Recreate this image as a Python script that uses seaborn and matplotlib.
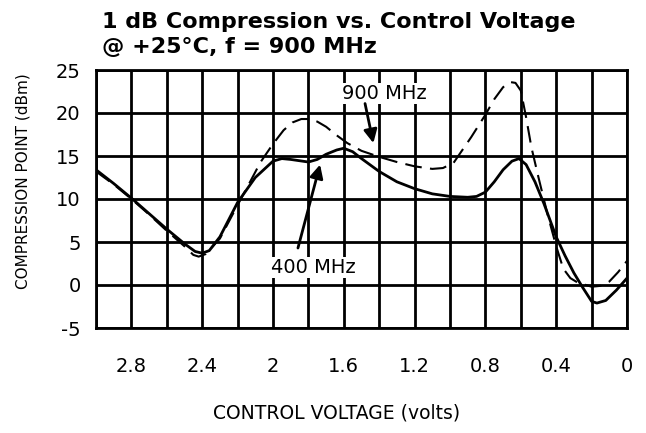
import numpy as np
import pandas as pd
import seaborn as sns
import matplotlib.pyplot as plt

# 400 MHz curve (solid)
volts_400 = [3.00, 2.90, 2.80, 2.70, 2.60, 2.50, 2.44, 2.40, 2.36, 2.30, 2.20, 2.10,
             2.00, 1.95, 1.90, 1.80, 1.75, 1.70, 1.64, 1.60, 1.55, 1.50, 1.40, 1.30,
             1.20, 1.10, 1.00, 0.90, 0.85, 0.80, 0.75, 0.70, 0.65, 0.61, 0.57, 0.52,
             0.47, 0.40, 0.35, 0.30, 0.25, 0.20, 0.17, 0.12, 0.06, 0.00]
comp_400 = [13.4, 11.8, 10.1, 8.3, 6.5, 4.8, 3.9, 3.7, 4.0, 5.6, 9.6, 12.5,
            14.4, 14.7, 14.6, 14.3, 14.6, 15.2, 15.7, 15.9, 15.5, 14.7, 13.2, 12.0,
            11.2, 10.6, 10.3, 10.2, 10.3, 10.8, 12.0, 13.4, 14.4, 14.7, 14.0, 12.0,
            9.5, 5.6, 3.4, 1.4, -0.3, -1.9, -2.1, -1.8, -0.6, 0.8]

# 900 MHz curve (dashed)
volts_900 = [3.00, 2.90, 2.80, 2.70, 2.60, 2.50, 2.45, 2.42, 2.38, 2.30, 2.20, 2.15,
             2.07, 2.00, 1.94, 1.89, 1.84, 1.80, 1.75, 1.70, 1.64, 1.58, 1.50, 1.40,
             1.30, 1.20, 1.10, 1.04, 0.98, 0.94, 0.88, 0.80, 0.75, 0.70, 0.66, 0.63,
             0.60, 0.57, 0.54, 0.50, 0.45, 0.40, 0.36, 0.32, 0.28, 0.20, 0.15, 0.10,
             0.05, 0.00]
comp_900 = [13.2, 11.7, 10.0, 8.2, 6.3, 4.5, 3.5, 3.3, 3.6, 5.4, 9.3, 11.2,
            14.3, 16.4, 18.0, 18.9, 19.3, 19.3, 19.0, 18.4, 17.4, 16.5, 15.6, 14.9,
            14.3, 13.8, 13.5, 13.6, 14.2, 15.4, 17.2, 19.8, 21.6, 23.0, 23.6, 23.5,
            22.6, 19.5, 16.0, 12.5, 8.3, 4.5, 1.9, 0.8, 0.3, -0.2, -0.1, 0.4,
            1.5, 2.8]

x_ticks = [3.0, 2.8, 2.6, 2.4, 2.2, 2.0, 1.8, 1.6, 1.4, 1.2, 1.0, 0.8, 0.6, 0.4, 0.2, 0.0]
x_tick_labels = ['', '2.8', '', '2.4', '', '2', '', '1.6', '', '1.2', '', '0.8', '', '0.4', '', '0']
y_ticks = [-5, 0, 5, 10, 15, 20, 25]

df = pd.concat([
    pd.DataFrame({'volts': volts_400, 'comp': comp_400, 'freq': '400 MHz'}),
    pd.DataFrame({'volts': volts_900, 'comp': comp_900, 'freq': '900 MHz'}),
])

sns.set_style('white')
plt.rcParams['font.family'] = ['DejaVu Sans']
plt.rcParams['axes.unicode_minus'] = False
plt.rcParams['text.color'] = 'black'
plt.rcParams['xtick.color'] = 'black'
plt.rcParams['ytick.color'] = 'black'

fig = plt.figure(figsize=(6.46, 4.33), dpi=100)
ax = fig.add_axes([96 / 646, 1 - 328 / 433, 531 / 646, 258 / 433])

sns.lineplot(data=df, x='volts', y='comp', style='freq', style_order=['400 MHz', '900 MHz'],
             dashes={'400 MHz': '', '900 MHz': (8, 4)}, color='black',
             sort=False, estimator=None, legend=False, ax=ax)
for line, lw in zip(ax.lines, [2.0, 1.5]):
    line.set_linewidth(lw)

ax.set_xlim(3.0, 0.0)
ax.set_ylim(-5, 25)
ax.set_xticks(x_ticks)
ax.set_xticklabels(x_tick_labels)
ax.set_yticks(y_ticks)
ax.tick_params(axis='x', length=0, pad=21, labelsize=14, labelcolor='black')
ax.tick_params(axis='y', length=0, pad=11, labelsize=14, labelcolor='black')
ax.grid(True, color='black', linewidth=2)
for s in ax.spines.values():
    s.set_color('black')
    s.set_linewidth(2)
ax.set_xlabel('')
ax.set_ylabel('')

# labels with white boxes over the grid, arrows drawn separately
box = dict(boxstyle='square,pad=0.05', fc='white', ec='none')
arrow = dict(arrowstyle='-|>', color='black', lw=2, mutation_scale=20, shrinkA=0, shrinkB=0)
ax.text(1.373, 22.3, '900 MHz', fontsize=14, ha='center', va='center', bbox=box)
ax.annotate('', xy=(1.433, 16.5), xytext=(1.48, 21.1), arrowprops=arrow)
ax.text(1.774, 2.0, '400 MHz', fontsize=14, ha='center', va='center', bbox=box)
ax.annotate('', xy=(1.734, 14.0), xytext=(1.859, 4.3), arrowprops=arrow)

fig.text(102 / 646, 1 - 28 / 433, '1 dB Compression vs. Control Voltage',
         fontsize=16, fontweight='bold', ha='left', va='baseline')
fig.text(102 / 646, 1 - 53 / 433, '@ +25°C, f = 900 MHz',
         fontsize=16, fontweight='bold', ha='left', va='baseline')
fig.text(213 / 646, 1 - 413 / 433, 'CONTROL VOLTAGE (volts)', fontsize=13.5,
         ha='left', va='center')
fig.text(23 / 646, 1 - 181 / 433, 'COMPRESSION POINT (dBm)', fontsize=11,
         ha='center', va='center', rotation=90)

fig.savefig('out.png', dpi=100)
